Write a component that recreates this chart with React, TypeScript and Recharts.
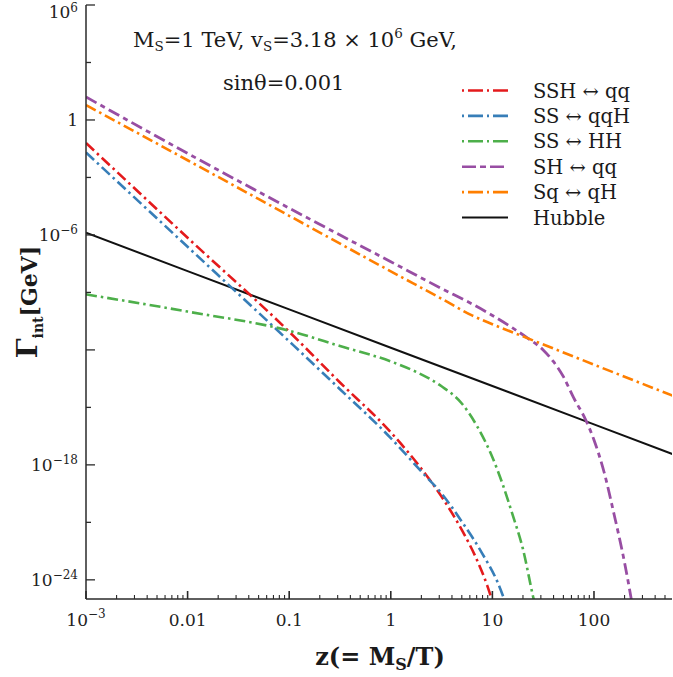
import React from "react";
import { LineChart, Line, XAxis, YAxis } from "recharts";

if (typeof document !== "undefined") document.body.style.margin = "0";

// z = M_S / T, interaction rates in GeV
const sshZ = [0.001, 0.01, 0.1, 0.316, 1, 2, 3.16, 5, 7.1, 8.9, 10.5];
const sshRate = [6.3e-2, 7.1e-7, 8.9e-12, 2.0e-14, 5.0e-17, 6.3e-19, 2.2e-20, 4.0e-22, 1.0e-23, 5.0e-25, 3.2e-26];

const ssqqhZ = [0.001, 0.01, 0.1, 0.316, 1, 2, 3.16, 5, 7.9, 11.2, 14.1];
const ssqqhRate = [2.0e-2, 2.4e-7, 2.8e-12, 8.9e-15, 2.5e-17, 4.5e-19, 3.2e-20, 1.1e-21, 2.5e-23, 7.9e-25, 3.2e-26];

const sshhZ = [0.001, 0.01, 0.1, 0.316, 1, 1.78, 3.16, 5, 7.1, 10, 12.6, 15.8, 20, 25.1, 28.2];
const sshhRate = [7.9e-10, 1.0e-10, 1.0e-11, 1.6e-12, 2.5e-13, 7.1e-14, 1.26e-14, 1.6e-15, 1.0e-16, 2.5e-18, 1.0e-19, 2.5e-21, 4.0e-23, 1.4e-25, 1.0e-26];

const shqqZ = [0.001, 0.01, 0.1, 1, 3.16, 6.3, 10, 15.8, 22.4, 31.6, 39.8, 50, 63, 83, 100, 126, 158, 200, 240];
const shqqRate = [15.8, 1.8e-2, 2.5e-5, 4.0e-8, 1.6e-9, 2.5e-10, 6.3e-11, 1.4e-11, 4.0e-12, 1.0e-12, 2.5e-13, 4.0e-14, 3.2e-15, 2.2e-16, 2.0e-17, 4.0e-19, 2.5e-21, 7.9e-24, 4.0e-26];

const sqqhZ = [0.001, 0.01, 0.1, 1, 3.16, 6.3, 10, 22.4, 100, 600];
const sqqhRate = [6.0, 7.9e-3, 1.0e-5, 1.26e-8, 4.7e-10, 6.3e-11, 2.2e-11, 4.0e-12, 1.7e-13, 4.0e-15];

const hubbleZ = [0.001, 0.01, 0.1, 1, 10, 100, 600];
const hubbleRate = [1.3e-6, 1.3e-8, 1.3e-10, 1.3e-12, 1.3e-14, 1.3e-16, 3.6e-18];

const legendNames = ["SSH \u2194 qq", "SS \u2194 qqH", "SS \u2194 HH", "SH \u2194 qq", "Sq \u2194 qH", "Hubble"];

const xDecades = [-3, -2, -1, 0, 1, 2];
const xDecadeLabels = ["", "0.01", "0.1", "1", "10", "100"];
const yTickExps = [-24, -21, -18, -15, -12, -9, -6, -3, 0, 3, 6];
const yLabelExps = [-24, -18, -6, 0, 6];

const zip = (zs: number[], gs: number[]) => zs.map((z, i) => ({ z, g: gs[i] }));

const xTicks: number[] = [];
xDecades.forEach((e) => {
  for (let m = 1; m <= 9; m++) {
    const v = m * Math.pow(10, e);
    if (v <= 586) xTicks.push(v);
  }
});
const yTicks = yTickExps.map((e) => Math.pow(10, e));

const AX = "#2a2a2a";
const FONT = "DejaVu Serif";
const RED = "#e41a1c";
const BLUE = "#377eb8";
const GREEN = "#4daf4a";
const PURPLE = "#984ea3";
const ORANGE = "#ff7f00";
const DASHDOT = "11 4 2.5 4";
const LONGSHORT = "12 4.5 5 4.5";

const isDecade = (v: number) => {
  const l = Math.log10(v);
  return Math.abs(l - Math.round(l)) < 1e-6;
};

const XTick = (props: any) => {
  const { x, y, payload, side } = props;
  const v = payload.value;
  const major = isDecade(v);
  const dir = side === "bottom" ? -1 : 1;
  const len = major ? 8 : 4;
  const e = Math.round(Math.log10(v));
  const idx = xDecades.indexOf(e);
  return (
    <g>
      <line x1={x} x2={x} y1={y} y2={y + dir * len} stroke={AX} strokeWidth={major ? 1.6 : 1.1} />
      {side === "bottom" && major && (
        <text x={x} y={y + 27} textAnchor="middle" fontFamily={FONT} fontSize={17} fill="#222">
          {e === -3 ? (
            <>
              10<tspan fontSize={12} dy={-8}>{"\u22123"}</tspan>
            </>
          ) : (
            xDecadeLabels[idx]
          )}
        </text>
      )}
    </g>
  );
};

const YTick = (props: any) => {
  const { x, y, payload, side } = props;
  const e = Math.round(Math.log10(payload.value));
  const major = e % 6 === 0;
  const dir = side === "left" ? 1 : -1;
  const len = major ? 9 : 5;
  const labeled = side === "left" && yLabelExps.includes(e);
  // the top label sits a little lower so that it stays on the page
  const base = e === 6 ? y + 13 : y + 6;
  const sup = e === 6 ? -6 : -7;
  return (
    <g>
      <line x1={x} x2={x + dir * len} y1={y} y2={y} stroke={AX} strokeWidth={1.3} />
      {labeled && (
        <text x={x - 8} y={base} textAnchor="end" fontFamily={FONT} fontSize={17} fill="#222">
          {e === 0 ? (
            "1"
          ) : (
            <>
              10<tspan fontSize={12} dy={sup}>{e < 0 ? "\u2212" + -e : String(e)}</tspan>
            </>
          )}
        </text>
      )}
    </g>
  );
};

const series = [
  { name: legendNames[0], data: zip(sshZ, sshRate), color: RED, dash: DASHDOT, w: 2.6 },
  { name: legendNames[1], data: zip(ssqqhZ, ssqqhRate), color: BLUE, dash: DASHDOT, w: 2.6 },
  { name: legendNames[2], data: zip(sshhZ, sshhRate), color: GREEN, dash: DASHDOT, w: 2.6 },
  { name: legendNames[3], data: zip(shqqZ, shqqRate), color: PURPLE, dash: LONGSHORT, w: 2.8 },
  { name: legendNames[4], data: zip(sqqhZ, sqqhRate), color: ORANGE, dash: DASHDOT, w: 2.6 },
];

export default function App() {
  return (
    <div style={{ position: "relative", width: 673, height: 677, background: "#fff" }}>
      <LineChart width={673} height={677} margin={{ top: 5, right: 1, bottom: 0, left: 0 }}>
        <XAxis
          xAxisId="b"
          orientation="bottom"
          type="number"
          dataKey="z"
          scale="log"
          domain={[0.001, 586]}
          allowDataOverflow
          ticks={xTicks}
          interval={0}
          tickSize={0}
          tickMargin={0}
          tickLine={false}
          height={78}
          axisLine={{ stroke: AX, strokeWidth: 1.5 }}
          tick={(p: any) => <XTick {...p} side="bottom" />}
        />
        <XAxis
          xAxisId="t"
          orientation="top"
          type="number"
          dataKey="z"
          scale="log"
          domain={[0.001, 586]}
          allowDataOverflow
          ticks={xTicks}
          interval={0}
          tickSize={0}
          tickMargin={0}
          tickLine={false}
          height={0}
          axisLine={{ stroke: AX, strokeWidth: 1.5 }}
          tick={(p: any) => <XTick {...p} side="top" />}
        />
        <YAxis
          yAxisId="l"
          orientation="left"
          type="number"
          scale="log"
          domain={[1e-25, 1e6]}
          allowDataOverflow
          ticks={yTicks}
          interval={0}
          tickSize={0}
          tickMargin={0}
          tickLine={false}
          width={86}
          axisLine={{ stroke: AX, strokeWidth: 1.5 }}
          tick={(p: any) => <YTick {...p} side="left" />}
        />
        <YAxis
          yAxisId="r"
          orientation="right"
          type="number"
          scale="log"
          domain={[1e-25, 1e6]}
          allowDataOverflow
          ticks={yTicks}
          interval={0}
          tickSize={0}
          tickMargin={0}
          tickLine={false}
          width={0}
          axisLine={{ stroke: AX, strokeWidth: 1.5 }}
          tick={(p: any) => <YTick {...p} side="right" />}
        />
        <Line
          xAxisId="b"
          yAxisId="l"
          data={zip(hubbleZ, hubbleRate)}
          dataKey="g"
          type="linear"
          stroke="#111"
          strokeWidth={2}
          dot={false}
          isAnimationActive={false}
        />
        {series.map((s) => (
          <Line
            key={s.name}
            xAxisId="b"
            yAxisId="l"
            data={s.data}
            dataKey="g"
            name={s.name}
            type="monotone"
            stroke={s.color}
            strokeWidth={s.w}
            strokeDasharray={s.dash}
            dot={false}
            isAnimationActive={false}
          />
        ))}
      </LineChart>

      <svg
        width={673}
        height={677}
        style={{ position: "absolute", left: 0, top: 0, pointerEvents: "none" }}
      >
        <g fontFamily={FONT} fill="#1a1a1a">
          <text x={133} y={47} fontSize={21}>
            M<tspan fontSize={13.5} dy={4}>S</tspan>
            <tspan dy={-4}>=1 TeV, v</tspan>
            <tspan fontSize={13.5} dy={4}>S</tspan>
            <tspan dy={-4}>=3.18 × 10</tspan>
            <tspan fontSize={13.5} dy={-9}>6</tspan>
            <tspan dy={9}> GeV,</tspan>
          </text>
          <text x={223} y={90} fontSize={21}>
            sinθ=0.001
          </text>

          {legendNames.map((n, i) => {
            const cy = 90.5 + i * 25.4;
            const s = series[i];
            return (
              <g key={n}>
                <line
                  x1={462}
                  x2={508}
                  y1={cy}
                  y2={cy}
                  stroke={s ? s.color : "#111"}
                  strokeWidth={s ? 2.6 : 2.2}
                  strokeDasharray={s ? (i === 3 ? "14 4 6 4" : "2 4 15 4") : undefined}
                />
                <text x={533} y={cy + 7} fontSize={19.5}>
                  {n}
                </text>
              </g>
            );
          })}

          <text x={380} y={665} textAnchor="middle" fontSize={24} fontWeight="bold">
            z(= M<tspan fontSize={16} dy={5}>S</tspan>
            <tspan dy={-5}>/T)</tspan>
          </text>

          <text transform="translate(37,302) rotate(-90)" textAnchor="middle" fontWeight="bold" fontSize={22}>
            <tspan fontSize={28}>Γ</tspan>
            <tspan fontSize={14} dy={6}>int</tspan>
            <tspan dy={-6}>[GeV]</tspan>
          </text>
        </g>
      </svg>
    </div>
  );
}
